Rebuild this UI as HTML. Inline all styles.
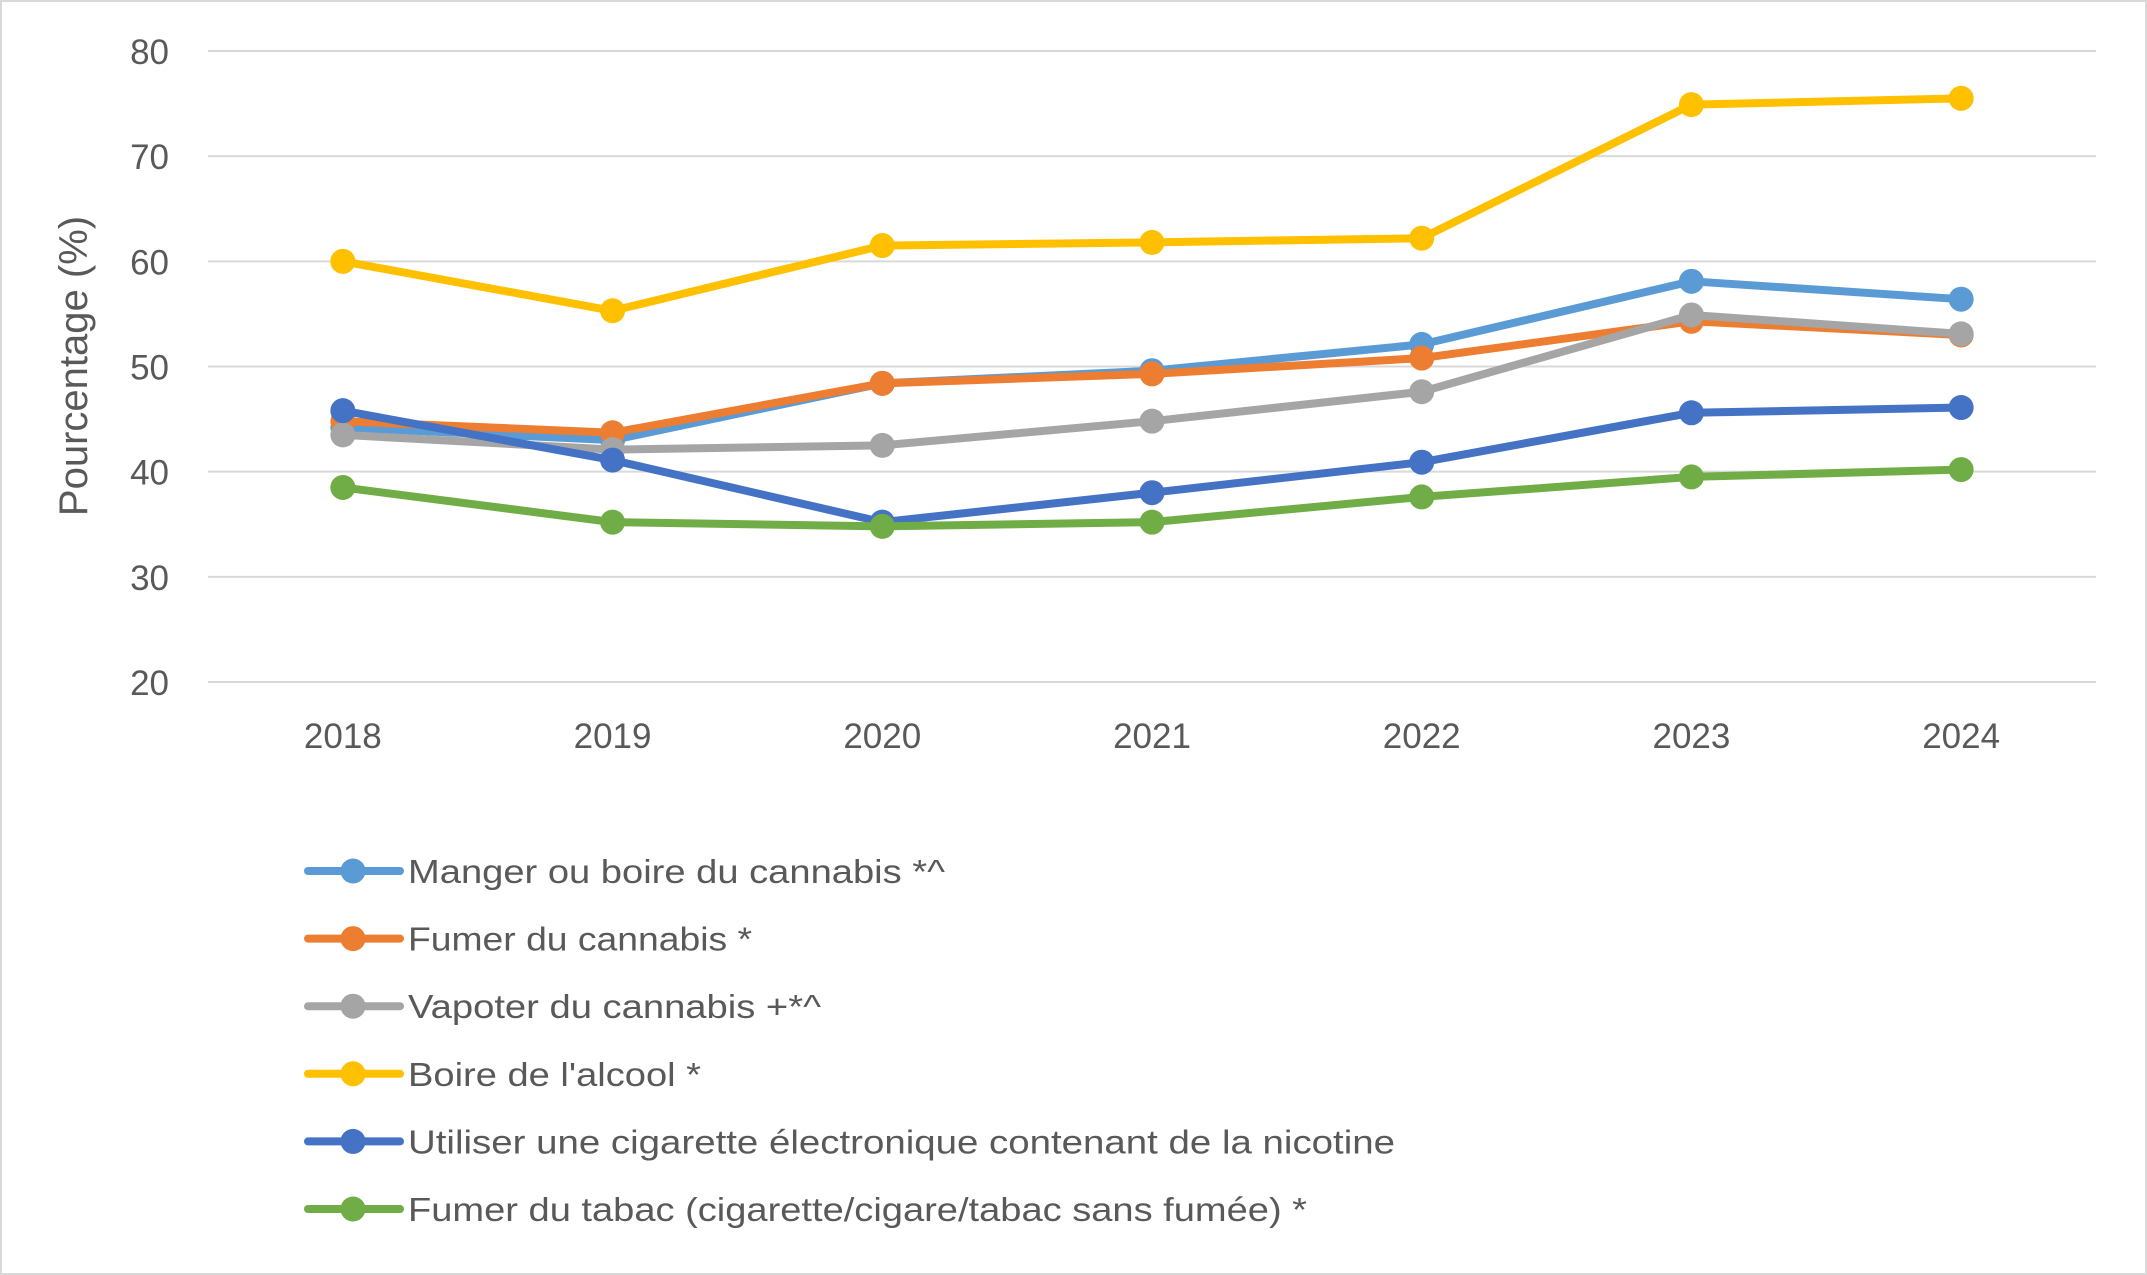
<!DOCTYPE html>
<html><head><meta charset="utf-8"><style>
html,body{margin:0;padding:0;background:#fff}
svg{display:block;font-family:"Liberation Sans",sans-serif}
</style></head><body>
<svg id="chart" width="2147" height="1275" viewBox="0 0 2147 1275">
<rect x="1" y="1" width="2145" height="1273" fill="#fff" stroke="#d9d9d9" stroke-width="2"/>
<g id="grid"></g><g id="yticks"></g><g id="xticks"></g><g id="series"></g><g id="legend"></g>
<text transform="translate(87,366) rotate(-90)" text-anchor="middle" font-size="40" fill="#595959">Pourcentage (%)</text>
</svg>
<script>
const categories = ["2018","2019","2020","2021","2022","2023","2024"];
const yTicks = [20,30,40,50,60,70,80];
const seriesNames = ["Manger ou boire du cannabis *^","Fumer du cannabis *","Vapoter du cannabis +*^","Boire de l'alcool *","Utiliser une cigarette électronique contenant de la nicotine","Fumer du tabac (cigarette/cigare/tabac sans fumée) *"];
const seriesColors = ["#5b9bd5","#ed7d31","#a5a5a5","#ffc000","#4472c4","#70ad47"];
const manger = [44.2,43.0,48.4,49.6,52.1,58.1,56.4];
const fumerCannabis = [44.8,43.7,48.4,49.3,50.8,54.3,53.0];
const vapoter = [43.5,42.1,42.5,44.8,47.6,54.9,53.1];
const alcool = [60.0,55.3,61.5,61.8,62.2,74.9,75.5];
const ecig = [45.8,41.1,35.2,38.0,40.9,45.6,46.1];
const tabac = [38.5,35.2,34.8,35.2,37.6,39.5,40.2];
const seriesValues = [manger,fumerCannabis,vapoter,alcool,ecig,tabac];
const legendWidths = [537,344,413,293,987,899];

const NS="http://www.w3.org/2000/svg";
const x0=208,x1=2096,yTop=51,yBot=682,yMin=20,yMax=80;
const bw=(x1-x0)/categories.length;
function xs(i){return x0+bw*(i+0.5);}
function ys(v){return yBot-(v-yMin)/(yMax-yMin)*(yBot-yTop);}
function mk(tag,attrs,parent){const e=document.createElementNS(NS,tag);for(const k in attrs)e.setAttribute(k,attrs[k]);parent.appendChild(e);return e;}
const grid=document.getElementById('grid'),yt=document.getElementById('yticks'),xt=document.getElementById('xticks'),sg=document.getElementById('series'),lg=document.getElementById('legend');
yTicks.forEach(t=>{
  const l=mk('line',{x1:x0,x2:x1,y1:ys(t),y2:ys(t),stroke:'#d9d9d9','stroke-width':2},grid);
  
  
  const tx=mk('text',{x:169,y:ys(t)+13,'text-anchor':'end','font-size':35,fill:'#595959'},yt);
  tx.textContent=t;
  
  
});
categories.forEach((c,i)=>{
  const tx=mk('text',{x:xs(i),y:748,'text-anchor':'middle','font-size':35,fill:'#595959'},xt);
  tx.textContent=c;
  
  
});
seriesValues.forEach((vals,s)=>{
  const g=mk('g',{},sg);
  
  
  const pts=vals.map((v,i)=>xs(i)+','+ys(v)).join(' ');
  const pl=mk('polyline',{points:pts,fill:'none',stroke:seriesColors[s],'stroke-width':8,'stroke-linejoin':'round'},g);
  
  
  vals.forEach((v,i)=>{
    const c=mk('circle',{cx:xs(i),cy:ys(v),r:12.5,fill:seriesColors[s]},g);
    
    
  });
  const ly=871+s*67.6;
  const le=mk('g',{},lg);
  
  
  mk('line',{x1:308,x2:400,y1:ly,y2:ly,stroke:seriesColors[s],'stroke-width':8,'stroke-linecap':'round'},le);
  mk('circle',{cx:353,cy:ly,r:12.5,fill:seriesColors[s]},le);
  const tx=mk('text',{x:408,y:ly+12,'font-size':33,fill:'#595959',textLength:legendWidths[s],lengthAdjust:'spacingAndGlyphs'},le);
  tx.textContent=seriesNames[s];
});
</script>
</body></html>
